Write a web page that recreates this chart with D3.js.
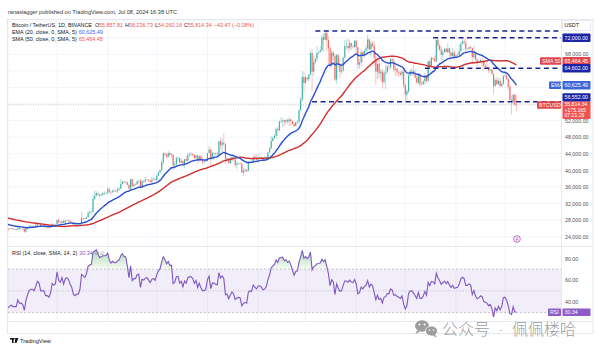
<!DOCTYPE html>
<html>
<head>
<meta charset="utf-8">
<script src="https://cdn.jsdelivr.net/npm/d3@7"></script>
<style>
  body { margin: 0; background: #fff; }
  svg { display: block; font-family: "Liberation Sans", Arial, sans-serif; }
</style>
</head>
<body>
<script>
// daily closes in thousand USDT, Jul 13 - Aug 31 2023 (only used to warm up EMA/SMA/RSI)
var warmCloses = [31.5, 30.3, 30.3, 30.2, 30.1, 29.9, 29.9, 29.8, 29.9, 29.8, 30.1, 29.2, 29.2, 29.4, 29.2, 29.3, 29.4, 29.3, 29.2,
  29.7, 29.2, 29.2, 29.1, 29.1, 29.0, 29.2, 29.8, 29.6, 29.4, 29.4, 29.4, 29.3, 29.4, 29.2, 28.7, 26.6, 26.1, 26.1, 26.2,
  26.1, 26.0, 26.4, 26.2, 26.1, 26.0, 26.1, 26.1, 27.7, 27.3, 25.9];

// BTCUSDT 1D, Sep 1 2023 - Jul 8 2024 (thousand USDT), open = previous close
var closes = [
  25.8, 25.9, 26.0, 25.8, 25.8, 25.8, 26.2, 25.9, 25.9, 25.8, 25.2, 25.8, 26.2, 26.5, 26.6, 26.6, 26.5, 26.8, 27.2, 27.1, 26.6, 26.6, 26.6, 26.3, 26.3, 26.2, 26.4, 27.0, 26.9, 27.0,
  28.0, 27.5, 27.4, 27.8, 27.4, 27.9, 28.0, 27.9, 27.6, 27.4, 26.9, 26.8, 26.9, 26.9, 27.2, 28.5, 28.4, 28.3, 28.7, 29.7, 29.9, 30.0, 33.1, 33.9, 34.5, 34.2, 33.9, 34.1, 34.5, 34.5, 34.6,
  35.4, 34.9, 34.7, 35.1, 35.0, 35.0, 35.4, 35.6, 36.7, 37.3, 37.1, 37.1, 36.5, 35.6, 37.9, 36.2, 36.6, 36.6, 37.4, 37.5, 35.8, 37.4, 37.3, 37.7, 37.8, 37.5, 37.2, 37.8, 37.9, 37.7,
  38.7, 39.5, 40.0, 42.0, 44.1, 43.8, 43.3, 44.2, 43.7, 43.8, 41.2, 41.5, 42.9, 43.0, 41.9, 42.3, 41.4, 42.7, 42.3, 43.7, 43.9, 44.0, 43.7, 43.0, 43.6, 42.5, 43.4, 42.6, 42.1, 42.1, 42.3,
  44.2, 45.0, 42.9, 44.2, 44.2, 44.0, 43.9, 47.0, 46.1, 46.7, 46.3, 42.8, 42.9, 41.7, 42.5, 43.2, 42.7, 41.3, 41.6, 41.7, 41.6, 39.5, 39.9, 40.1, 39.9, 41.8, 42.1, 42.0, 43.3, 42.9, 42.6,
  43.1, 43.2, 43.0, 42.6, 42.7, 43.1, 44.3, 45.3, 47.1, 47.8, 48.3, 50.0, 49.7, 51.8, 51.9, 52.1, 51.7, 52.1, 51.8, 52.3, 51.9, 51.3, 50.7, 51.6, 51.7, 54.5, 57.1, 62.5, 61.1,
  62.4, 62.0, 63.1, 68.3, 63.8, 66.1, 66.9, 68.3, 68.5, 69.0, 72.1, 71.5, 73.1, 71.4, 69.4, 65.3, 68.4, 67.6, 61.9, 67.8, 65.5, 63.8, 64.1, 67.2, 70.0, 70.0, 69.5, 70.7, 69.9, 69.7, 71.3,
  69.7, 65.5, 66.0, 68.5, 67.8, 68.9, 69.4, 71.6, 69.2, 70.6, 70.0, 67.2, 63.8, 65.7, 63.4, 63.8, 61.3, 63.5, 63.8, 65.0, 64.9, 66.8, 66.4, 64.3, 64.5, 63.8, 63.5, 63.1, 63.8, 60.6,
  58.3, 59.1, 62.9, 63.9, 64.0, 63.2, 62.3, 61.2, 63.1, 60.8, 60.8, 61.5, 62.9, 61.6, 66.3, 65.2, 67.1, 66.9, 66.3, 71.5, 70.1, 69.1, 67.9, 68.5, 69.3, 68.5, 69.4, 68.4, 67.6, 68.4, 67.5,
  67.7, 67.8, 68.8, 70.6, 71.1, 70.8, 69.3, 69.3, 69.7, 69.5, 67.3, 68.2, 66.8, 66.0, 66.2, 66.6, 66.5, 65.2, 65.0, 64.8, 64.1, 64.3, 63.2, 60.3, 61.8, 60.8, 61.6, 60.3, 60.9, 62.7,
  62.8, 62.0, 60.2, 57.0, 56.6, 58.2, 55.858, 55.814
];
var highs = [
  26.1, 26.1, 26.1, 26.1, 25.9, 26.0, 26.4, 26.4, 25.9, 26.0, 25.9, 26.5, 26.4, 26.8, 26.9, 26.7, 26.6, 27.4, 27.5, 27.4, 27.2, 26.7, 26.7, 26.7, 26.4, 26.4, 26.8, 27.3, 27.2, 27.1,
  28.1, 28.6, 27.7, 27.8, 28.1, 28.0, 28.0, 28.1, 28.0, 27.7, 27.5, 26.9, 27.1, 27.0, 27.3, 30.0, 28.6, 28.6, 28.9, 30.2, 30.4, 30.2, 34.0, 35.2, 35.0, 34.8, 34.2, 34.5, 34.8, 34.9, 34.7,
  35.9, 35.9, 34.9, 35.3, 35.4, 35.3, 35.9, 35.9, 37.9, 37.5, 37.4, 37.3, 37.4, 36.8, 38.0, 37.9, 36.8, 36.9, 37.5, 37.7, 37.9, 37.9, 37.7, 38.4, 37.9, 37.8, 37.6, 38.4, 38.4, 38.1,
  38.9, 39.7, 40.2, 42.4, 44.4, 44.3, 44.0, 44.7, 44.4, 44.0, 43.8, 42.1, 43.4, 43.4, 43.1, 42.8, 42.4, 42.7, 43.4, 44.3, 44.3, 44.4, 44.0, 43.9, 43.7, 43.6, 43.7, 43.8, 43.1, 42.6, 42.9,
  44.2, 45.9, 45.5, 44.7, 44.4, 44.2, 44.5, 47.2, 47.9, 47.7, 49.0, 46.5, 43.3, 43.0, 43.4, 43.6, 43.2, 42.9, 42.2, 41.9, 41.9, 41.8, 40.6, 40.6, 40.3, 42.2, 42.2, 42.8, 43.4, 43.9, 43.7,
  43.3, 43.5, 43.4, 43.1, 43.5, 43.4, 44.5, 45.6, 48.2, 48.2, 48.6, 50.3, 50.4, 52.0, 52.8, 52.6, 52.2, 52.4, 52.5, 52.9, 52.4, 51.9, 51.6, 51.7, 52.0, 54.9, 57.6, 64.0, 63.7,
  63.0, 62.5, 63.2, 68.9, 69.2, 67.6, 67.0, 70.0, 68.7, 70.0, 72.8, 73.0, 73.6, 73.8, 72.4, 70.0, 68.9, 68.9, 68.1, 68.1, 68.1, 66.7, 65.9, 67.5, 71.5, 71.6, 71.7, 71.5, 70.9, 70.3, 71.3,
  71.3, 69.7, 66.9, 69.3, 68.7, 69.0, 70.3, 72.7, 71.8, 71.2, 71.2, 71.2, 67.9, 65.8, 66.9, 64.4, 64.5, 64.1, 65.5, 65.4, 65.7, 67.2, 67.2, 67.1, 65.3, 64.8, 63.9, 64.0, 64.2, 64.7,
  60.8, 59.6, 63.3, 64.5, 64.6, 65.5, 64.4, 62.9, 63.4, 63.4, 61.5, 61.8, 63.5, 63.1, 66.4, 66.7, 67.4, 67.4, 67.7, 71.5, 71.9, 70.6, 70.0, 69.2, 69.6, 69.6, 70.6, 69.6, 68.9, 69.5, 69.0,
  67.9, 68.4, 70.3, 71.0, 71.8, 71.6, 71.9, 69.5, 69.9, 70.2, 69.6, 70.0, 68.5, 67.0, 66.4, 66.9, 67.3, 66.6, 65.7, 66.5, 65.1, 64.5, 64.5, 63.4, 62.4, 62.5, 62.3, 62.2, 61.2, 63.0,
  63.8, 63.3, 62.2, 60.5, 58.0, 58.5, 58.5, 58.237
];
var lows = [
  25.3, 25.7, 25.8, 25.6, 25.6, 25.4, 25.6, 25.6, 25.8, 25.6, 24.9, 25.1, 25.8, 26.1, 26.2, 26.5, 26.4, 26.4, 26.7, 26.8, 26.4, 26.5, 26.5, 26.1, 26.0, 26.0, 26.1, 26.3, 26.7, 26.9,
  26.9, 27.2, 27.2, 27.2, 27.3, 27.2, 27.8, 27.7, 27.3, 27.3, 26.6, 26.5, 26.7, 26.8, 26.8, 27.1, 28.1, 28.1, 28.2, 28.6, 29.4, 29.6, 29.9, 32.8, 33.7, 33.9, 33.4, 33.8, 34.0, 34.1, 34.1,
  34.3, 34.3, 34.1, 34.6, 34.8, 34.7, 34.5, 35.1, 35.5, 36.4, 36.8, 36.8, 36.3, 35.3, 35.4, 35.9, 35.9, 36.4, 36.5, 36.8, 35.7, 35.6, 36.9, 37.1, 37.6, 37.2, 36.8, 36.9, 37.6, 37.5,
  37.6, 38.6, 39.2, 39.9, 41.4, 43.4, 42.8, 43.1, 43.6, 43.1, 40.2, 40.7, 40.9, 42.1, 41.6, 41.7, 41.2, 40.5, 41.8, 42.2, 43.3, 43.4, 43.3, 42.6, 42.8, 41.7, 42.1, 42.3, 41.3, 41.5, 42.1,
  42.2, 44.2, 40.8, 42.6, 42.5, 43.5, 43.6, 43.2, 45.0, 44.3, 45.6, 41.5, 42.4, 41.7, 41.7, 42.0, 42.2, 40.7, 40.3, 41.4, 41.5, 39.4, 38.6, 39.5, 39.5, 39.8, 41.7, 41.6, 41.8, 42.7, 42.3,
  41.9, 42.6, 42.9, 42.3, 42.3, 42.6, 42.8, 44.3, 45.2, 46.9, 47.6, 47.7, 48.3, 49.3, 51.4, 50.6, 50.6, 51.1, 51.3, 50.6, 50.8, 50.9, 50.5, 50.7, 51.3, 50.9, 54.4, 56.7, 58.8,
  60.8, 61.6, 61.3, 62.9, 59.0, 62.8, 65.6, 66.2, 68.0, 68.5, 68.7, 68.6, 71.3, 68.7, 65.6, 64.5, 64.8, 66.6, 61.5, 60.8, 64.6, 62.3, 63.3, 63.8, 66.9, 69.1, 68.4, 68.9, 69.0, 69.6, 69.6,
  68.1, 64.5, 64.5, 65.1, 66.0, 67.2, 68.6, 68.9, 68.9, 67.5, 69.6, 65.1, 60.7, 62.0, 62.3, 61.7, 59.7, 60.8, 59.6, 63.1, 64.2, 64.5, 65.8, 63.8, 62.8, 62.8, 62.5, 62.8, 61.9, 59.9,
  56.6, 56.9, 58.6, 62.6, 62.8, 62.9, 62.2, 60.9, 60.6, 60.2, 60.6, 60.6, 60.8, 61.1, 61.3, 64.6, 65.1, 66.6, 66.1, 66.1, 69.2, 68.8, 66.3, 66.6, 68.6, 68.5, 68.3, 67.3, 67.2, 67.1, 66.6,
  67.4, 67.4, 67.6, 68.4, 70.4, 70.1, 68.5, 69.1, 69.2, 69.2, 66.1, 66.9, 66.3, 65.1, 65.9, 66.0, 65.0, 64.1, 64.7, 64.6, 63.4, 63.9, 63.2, 58.4, 60.3, 60.6, 60.6, 60.1, 60.2, 60.6,
  62.5, 61.8, 59.4, 56.8, 53.5, 56.0, 55.7, 54.26
];

var priceTicks = d3.range(24000, 76001, 4000);
var rsiTicks = [80, 60, 40];
// horizontal levels drawn by the author: price, first day
var levels = [
  {p: 73600, from: "2024-03-07"},
  {p: 72000, from: "2024-05-18"},
  {p: 64602, from: "2024-05-13"},
  {p: 56552, from: "2024-03-05"}
];

var W = 600, H = 353;
var DAY = 864e5;
var start = Date.UTC(2023, 8, 1);
var left = 8, right = 561;
var mainTop = 20, mainBot = 246.5, rsiTop = 247, rsiBot = 321.5;

var x = d3.scaleUtc()
    .domain([new Date(start), new Date(Date.UTC(2024, 6, 1))])
    .range([8, 505]);
var y = d3.scaleLinear().domain([24000, 72000]).range([236.7, 37.7]);
var yr = d3.scaleLinear().domain([40, 80]).range([301.7, 258.3]);

// build candles
var all = warmCloses.concat(closes).map(function(v){ return v * 1000; });
var nW = warmCloses.length;
var candles = closes.map(function(c, i){
  var o = all[nW + i - 1], cl = c * 1000;
  return {date: new Date(start + i * DAY), o: o, c: cl,
          h: Math.max(highs[i] * 1000, o, cl), l: Math.min(lows[i] * 1000, o, cl)};
});

function sma(vals, n){
  return vals.map(function(v, i){ return i < n - 1 ? null : d3.mean(vals.slice(i - n + 1, i + 1)); });
}
function ema(vals, n){
  var k = 2 / (n + 1), prev, out = [];
  vals.forEach(function(v, i){
    if (i < n - 1) { out.push(null); return; }
    prev = (i == n - 1) ? d3.mean(vals.slice(0, n)) : v * k + prev * (1 - k);
    out.push(prev);
  });
  return out;
}
function rsi(vals, n){
  var out = [null], ag = 0, al = 0;
  for (var i = 1; i < vals.length; i++) {
    var ch = vals[i] - vals[i - 1], g = Math.max(ch, 0), l = Math.max(-ch, 0);
    if (i <= n) {
      ag += g / n; al += l / n;
      out.push(i == n ? 100 - 100 / (1 + ag / al) : null);
    } else {
      ag = (ag * (n - 1) + g) / n; al = (al * (n - 1) + l) / n;
      out.push(100 - 100 / (1 + ag / al));
    }
  }
  return out;
}
function shown(arr){
  return arr.slice(nW).map(function(v, i){ return {date: new Date(start + i * DAY), v: v}; });
}
var emaData = shown(ema(all, 20)), smaData = shown(sma(all, 50)), rsiData = shown(rsi(all, 14));

// price-scale tags (centre y, height) - axis labels under them are hidden like on TradingView
var tagBands = [[25.5, 10], [y(72000), 8.5], [61, 8], [y(64602), 8.5], [85.2, 8.5], [97.6, 8.5], [110.25, 17.5]];
var labelTicks = priceTicks.filter(function(p){
  return tagBands.every(function(b){ return Math.abs(y(p) - b[0]) > b[1] / 2 + 1.5; });
});

var svg = d3.select("body").append("svg").attr("width", W).attr("height", H);
var defs = svg.append("defs");
defs.append("clipPath").attr("id", "cMain").append("rect")
    .attr("x", left).attr("y", mainTop).attr("width", right - left).attr("height", mainBot - mainTop);
defs.append("clipPath").attr("id", "cRsi").append("rect")
    .attr("x", left).attr("y", rsiTop).attr("width", right - left).attr("height", rsiBot - rsiTop);
defs.append("clipPath").attr("id", "cTime").append("rect")
    .attr("x", left).attr("y", rsiBot).attr("width", right - left).attr("height", 12);
var gUp = defs.append("linearGradient").attr("id", "gOb").attr("x1", 0).attr("x2", 0)
    .attr("gradientUnits", "userSpaceOnUse").attr("y1", yr(90)).attr("y2", yr(70));
gUp.append("stop").attr("offset", 0).attr("stop-color", "#4caf50").attr("stop-opacity", 0.5);
gUp.append("stop").attr("offset", 1).attr("stop-color", "#4caf50").attr("stop-opacity", 0.05);
var gDn = defs.append("linearGradient").attr("id", "gOs").attr("x1", 0).attr("x2", 0)
    .attr("gradientUnits", "userSpaceOnUse").attr("y1", yr(30)).attr("y2", yr(15));
gDn.append("stop").attr("offset", 0).attr("stop-color", "#f44336").attr("stop-opacity", 0.05);
gDn.append("stop").attr("offset", 1).attr("stop-color", "#f44336").attr("stop-opacity", 0.5);

// header
svg.append("text").attr("x", 8).attr("y", 14).attr("font-size", 5.6).attr("fill", "#333")
    .text("ranaslagger published on TradingView.com, Jul 08, 2024 16:38 UTC");

// grid
var months = d3.utcMonth.range(new Date(start), new Date(Date.UTC(2024, 6, 2)));
svg.append("g").selectAll("line").data(months).enter().append("line")
    .attr("x1", function(d){ return x(d); }).attr("x2", function(d){ return x(d); })
    .attr("y1", mainTop).attr("y2", rsiBot).attr("stroke", "#f0f3fa").attr("stroke-width", 0.8);
svg.append("g").selectAll("line").data(priceTicks).enter().append("line")
    .attr("x1", left).attr("x2", right).attr("y1", function(d){ return y(d); }).attr("y2", function(d){ return y(d); })
    .attr("stroke", "#f0f3fa").attr("stroke-width", 0.8);

// price pane
var main = svg.append("g").attr("clip-path", "url(#cMain)");

main.append("line").attr("x1", left).attr("x2", right)
    .attr("y1", y(55814)).attr("y2", y(55814))
    .attr("stroke", "#b8a9ab").attr("stroke-width", 0.6).attr("stroke-dasharray", "1,1.5");

var cw = 1.1;
var cg = main.append("g").selectAll("g").data(candles).enter().append("g")
    .attr("stroke", function(d){ return d.c >= d.o ? "#26a69a" : "#ef5350"; })
    .attr("fill", function(d){ return d.c >= d.o ? "#26a69a" : "#ef5350"; });
cg.append("line")
    .attr("x1", function(d){ return x(d.date); }).attr("x2", function(d){ return x(d.date); })
    .attr("y1", function(d){ return y(d.h); }).attr("y2", function(d){ return y(d.l); })
    .attr("stroke-width", 0.45).attr("stroke-opacity", 0.8);
cg.append("rect")
    .attr("x", function(d){ return x(d.date) - cw / 2; }).attr("width", cw)
    .attr("y", function(d){ return y(Math.max(d.o, d.c)); })
    .attr("height", function(d){ return Math.max(0.5, Math.abs(y(d.o) - y(d.c))); })
    .attr("stroke", "none").attr("fill-opacity", 0.85);

var maLine = d3.line().defined(function(d){ return d.v != null; })
    .x(function(d){ return x(d.date); }).y(function(d){ return y(d.v); }).curve(d3.curveMonotoneX);
main.append("path").datum(smaData).attr("d", maLine).attr("fill", "none")
    .attr("stroke", "#d32f2f").attr("stroke-width", 1.4);
main.append("path").datum(emaData).attr("d", maLine).attr("fill", "none")
    .attr("stroke", "#2a4fcf").attr("stroke-width", 1.4);

main.append("g").selectAll("line").data(levels).enter().append("line")
    .attr("x1", function(d){ return x(new Date(d.from)); }).attr("x2", right)
    .attr("y1", function(d){ return y(d.p); }).attr("y2", function(d){ return y(d.p); })
    .attr("stroke", "#1b2590").attr("stroke-width", 1.5).attr("stroke-dasharray", "5,3.5");

// event badge
svg.append("circle").attr("cx", 517).attr("cy", 239).attr("r", 3.3)
    .attr("fill", "#fff").attr("stroke", "#9c27b0").attr("stroke-width", 0.7);
svg.append("path").attr("d", "M517.8,236.9 L516,239.3 L517.6,239.3 L516.3,241.2")
    .attr("fill", "none").attr("stroke", "#9c27b0").attr("stroke-width", 0.6);

// RSI pane
var rp = svg.append("g").attr("clip-path", "url(#cRsi)");
rp.append("rect").attr("x", left).attr("width", right - left)
    .attr("y", yr(70)).attr("height", yr(30) - yr(70)).attr("fill", "#7e57c2").attr("fill-opacity", 0.1);
[70, 50, 30].forEach(function(v){
  rp.append("line").attr("x1", left).attr("x2", right).attr("y1", yr(v)).attr("y2", yr(v))
    .attr("stroke", "#9598a1").attr("stroke-width", 0.5)
    .attr("stroke-dasharray", v == 50 ? "1,1.5" : "2,2");
});
var rdef = rsiData.filter(function(d){ return d.v != null; });
rp.append("path").datum(rdef).attr("fill", "url(#gOb)")
    .attr("d", d3.area().x(function(d){ return x(d.date); })
      .y0(yr(70)).y1(function(d){ return yr(Math.max(d.v, 70)); }));
rp.append("path").datum(rdef).attr("fill", "url(#gOs)")
    .attr("d", d3.area().x(function(d){ return x(d.date); })
      .y0(yr(30)).y1(function(d){ return yr(Math.min(d.v, 30)); }));
rp.append("path").datum(rdef).attr("fill", "none").attr("stroke", "#7e57c2").attr("stroke-width", 1.1)
    .attr("d", d3.line().x(function(d){ return x(d.date); }).y(function(d){ return yr(d.v); }));

// frame and separators
svg.append("rect").attr("x", 7.5).attr("y", 19.5).attr("width", 585.5).attr("height", 314)
    .attr("fill", "none").attr("stroke", "#e0e3eb").attr("stroke-width", 0.8);
svg.append("line").attr("x1", 7.5).attr("x2", 593).attr("y1", mainBot).attr("y2", mainBot)
    .attr("stroke", "#e0e3eb").attr("stroke-width", 0.8);
svg.append("line").attr("x1", 7.5).attr("x2", 593).attr("y1", rsiBot).attr("y2", rsiBot)
    .attr("stroke", "#e0e3eb").attr("stroke-width", 0.8);
svg.append("line").attr("x1", right + 0.5).attr("x2", right + 0.5).attr("y1", 19.5).attr("y2", 333.5)
    .attr("stroke", "#e0e3eb").attr("stroke-width", 0.8);

// axes
var yAxis = d3.axisRight(y).tickValues(labelTicks).tickSize(0).tickPadding(4)
    .tickFormat(d3.format(",.2f"));
var ya = svg.append("g").attr("transform", "translate(" + right + ",0)").call(yAxis);
var ra = svg.append("g").attr("transform", "translate(" + right + ",0)")
    .call(d3.axisRight(yr).tickValues(rsiTicks).tickSize(0).tickPadding(4).tickFormat(d3.format(".2f")));
var xa = svg.append("g").attr("transform", "translate(0," + rsiBot + ")").attr("clip-path", "url(#cTime)")
    .call(d3.axisBottom(x).tickValues(months).tickSize(0).tickPadding(3)
      .tickFormat(function(d){ return d.getUTCMonth() == 0 ? d3.utcFormat("%Y")(d) : d3.utcFormat("%b")(d); }));
[ya, ra, xa].forEach(function(g){
  g.select(".domain").remove();
  g.selectAll("text").attr("font-size", 5.3).attr("fill", "#50535e")
    .attr("font-family", "Liberation Sans, Arial, sans-serif");
});
xa.selectAll("text").attr("dy", "0.9em");

// price-scale labels
function tag(x0, yc, w, h, fill, txt, col, stroke){
  var g = svg.append("g");
  g.append("rect").attr("x", x0).attr("y", yc - h / 2).attr("width", w).attr("height", h).attr("rx", 0.8)
    .attr("fill", fill).attr("stroke", stroke || "none").attr("stroke-width", 0.5);
  g.append("text").attr("x", x0 + 2).attr("y", yc).attr("dy", "0.35em").attr("font-size", 5.3)
    .attr("fill", col || "#fff").text(txt);
}
tag(562.5, 25.5, 28, 10, "#fff", "USDT", "#131722", "#d1d4dc");
tag(562.5, y(72000), 28, 8.5, "#1b24a6", "72,000.00");
tag(540, 61, 21, 7.5, "#e0474c", "SMA 50");
tag(562.5, 61, 28, 8, "#e0474c", "65,464.45");
tag(562.5, y(64602), 28, 8.5, "#1b24a6", "64,602.00");
tag(549, 85.2, 12, 7.5, "#3a66d8", "EMA");
tag(562.5, 85.2, 28, 8.5, "#3a66d8", "60,625.49");
tag(562.5, 97.6, 28, 8.5, "#1b24a6", "56,552.00");
tag(537, 105, 24, 7.5, "#e0474c", "BTCUSDT");
svg.append("rect").attr("x", 562.5).attr("y", 101.5).attr("width", 28).attr("height", 17.5)
    .attr("rx", 0.8).attr("fill", "#ef5350");
["55,814.34", "+175.165", "07:21:29"].forEach(function(t, i){
  svg.append("text").attr("x", 564.5).attr("y", 106.3 + i * 5.5).attr("font-size", 5.1)
    .attr("fill", "#fff").text(t);
});
tag(548, yr(30.34), 13, 7.5, "#8e5cc9", "RSI");
tag(562.5, yr(30.34), 28, 7.5, "#8e5cc9", "30.34");

// legends
var lg = svg.append("g").attr("font-size", 5.4).attr("fill", "#131722");
var t1 = lg.append("text").attr("x", 12).attr("y", 26.5);
t1.append("tspan").text("Bitcoin / TetherUS, 1D, BINANCE");
[["O", "55,857.81"], ["H", "58,236.73"], ["L", "54,260.16"], ["C", "55,814.34"]].forEach(function(p, i){
  t1.append("tspan").attr("dx", i ? 2 : 3).text(p[0]);
  t1.append("tspan").attr("fill", "#ef5350").text(p[1]);
});
t1.append("tspan").attr("dx", 2).attr("fill", "#ef5350").text("\u221243.47 (\u22120.08%)");
var t2 = lg.append("text").attr("x", 12).attr("y", 33.7);
t2.append("tspan").text("EMA (20, close, 0, SMA, 5)");
t2.append("tspan").attr("dx", 2).attr("fill", "#2962ff").text("60,625.49");
var t3 = lg.append("text").attr("x", 12).attr("y", 40.9);
t3.append("tspan").text("SMA (50, close, 0, SMA, 5)");
t3.append("tspan").attr("dx", 2).attr("fill", "#ef5350").text("65,464.45");
var t4 = lg.append("text").attr("x", 12).attr("y", 254.5);
t4.append("tspan").text("RSI (14, close, SMA, 14, 2)");
t4.append("tspan").attr("dx", 2).attr("fill", "#7e57c2").text("30.34");
t4.append("tspan").attr("dx", 2).attr("fill", "#888").text("\u2205  \u2205");

// TradingView mark
var tv = svg.append("g").attr("fill", "#131722");
tv.append("rect").attr("x", 10).attr("y", 338).attr("width", 4.5).attr("height", 1.6);
tv.append("rect").attr("x", 12).attr("y", 338).attr("width", 1.6).attr("height", 5);
tv.append("path").attr("d", "M15.2,338 L18.5,338 L16.4,343 L14.8,343 Z");
tv.append("text").attr("x", 20).attr("y", 342.6).attr("font-size", 5.6).text("TradingView");

// watermark
var wm = svg.append("g").attr("fill", "#8c8c8c").attr("fill-opacity", 0.85);
wm.append("ellipse").attr("cx", 422).attr("cy", 326).attr("rx", 7).attr("ry", 5.8);
wm.append("path").attr("d", "M417,330.5 L415.5,334 L420,331.5 Z");
wm.append("ellipse").attr("cx", 431.5).attr("cy", 331).attr("rx", 6).attr("ry", 5).attr("stroke", "#fff").attr("stroke-width", 0.8);
wm.append("path").attr("d", "M435,335 L437.5,337.5 L432,335.5 Z");
[[419.5, 324.5, 1], [424.5, 324.5, 1], [429.5, 330, 0.8], [433.5, 330, 0.8]].forEach(function(e){
  svg.append("circle").attr("cx", e[0]).attr("cy", e[1]).attr("r", e[2]).attr("fill", "#fff");
});
var wt = svg.append("g").attr("fill", "#888").attr("fill-opacity", 0.85)
    .attr("font-family", "Noto Sans CJK SC, sans-serif").attr("font-size", 16).attr("font-weight", 300);
wt.append("text").attr("x", 442).attr("y", 335).text("公众号");
wt.append("text").attr("x", 499).attr("y", 333).attr("font-size", 10).text("-");
wt.append("text").attr("x", 512).attr("y", 335).text("佩佩楼哈");
</script>
</body>
</html>
